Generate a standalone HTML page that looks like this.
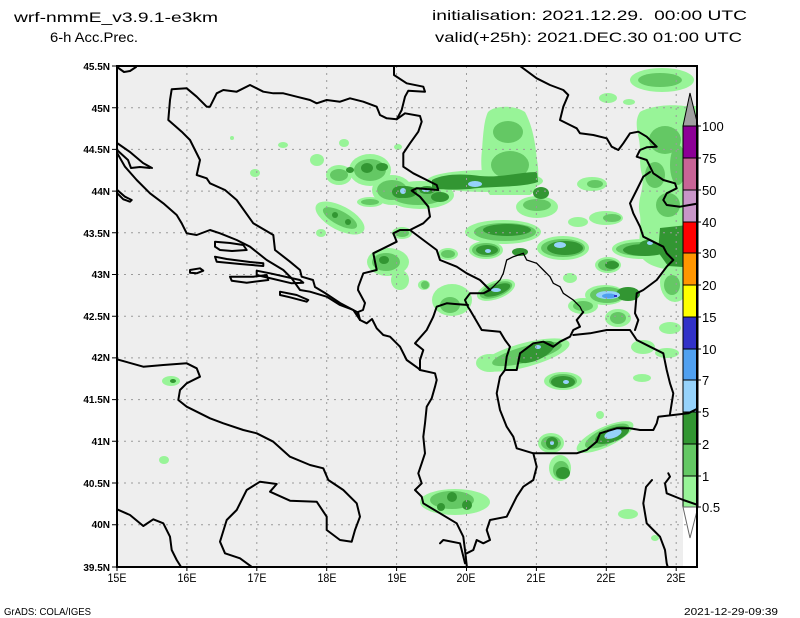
<!DOCTYPE html>
<html><head><meta charset="utf-8"><style>
html,body{margin:0;padding:0;background:#fff;width:800px;height:618px;overflow:hidden}
svg{display:block}
text{font-family:"Liberation Sans",sans-serif;fill:#000}
</style></head><body>
<svg width="800" height="618" viewBox="0 0 800 618" xmlns="http://www.w3.org/2000/svg">
<defs><clipPath id="mc"><rect x="117" y="66" width="580" height="501"/></clipPath></defs>
<rect width="800" height="618" fill="#fff"/>
<g clip-path="url(#mc)">
<rect x="117" y="66" width="580" height="501" fill="#eeeeee"/>
<rect x="683" y="507" width="15" height="62" fill="#fff"/>
<!-- light green -->
<g fill="#98f498">
<path d="M488,112 C495,105 515,105 525,112 C532,125 535,140 537,160 C540,175 538,190 530,195 L490,195 C482,185 480,165 482,150 C483,135 484,120 488,112 Z"/>
<ellipse cx="485" cy="181" rx="58" ry="11"/>
<ellipse cx="420" cy="195" rx="34" ry="14"/>
<ellipse cx="339" cy="175" rx="13" ry="10"/>
<ellipse cx="370" cy="170" rx="21" ry="16"/>
<ellipse cx="392" cy="190" rx="20" ry="15"/>
<ellipse cx="340" cy="218" rx="27" ry="12" transform="rotate(28 340 218)"/>
<ellipse cx="321" cy="233" rx="5" ry="4"/>
<ellipse cx="370" cy="202" rx="13" ry="5"/>
<ellipse cx="388" cy="262" rx="21" ry="14"/>
<ellipse cx="402" cy="233" rx="10" ry="6"/>
<ellipse cx="400" cy="280" rx="9" ry="10"/>
<ellipse cx="662" cy="80" rx="32" ry="12"/>
<ellipse cx="608" cy="98" rx="9" ry="5"/>
<ellipse cx="629" cy="102" rx="6" ry="3"/>
<path d="M640,112 C650,106 670,104 684,106 L697,106 L697,270 C670,272 650,268 642,258 C636,245 642,230 640,215 C636,200 645,190 642,175 C638,160 642,150 638,135 C636,125 636,118 640,112 Z"/>
<ellipse cx="537" cy="207" rx="21" ry="11"/>
<ellipse cx="592" cy="184" rx="15" ry="7"/>
<ellipse cx="578" cy="222" rx="10" ry="5"/>
<ellipse cx="606" cy="218" rx="17" ry="7"/>
<ellipse cx="503" cy="232" rx="38" ry="12"/>
<ellipse cx="486" cy="250" rx="17" ry="9"/>
<ellipse cx="448" cy="254" rx="10" ry="6"/>
<ellipse cx="563" cy="248" rx="26" ry="12"/>
<ellipse cx="642" cy="249" rx="30" ry="10"/>
<ellipse cx="608" cy="265" rx="13" ry="8"/>
<ellipse cx="605" cy="295" rx="20" ry="10"/>
<ellipse cx="496" cy="290" rx="20" ry="9" transform="rotate(-20 496 290)"/>
<ellipse cx="583" cy="306" rx="15" ry="8"/>
<ellipse cx="570" cy="278" rx="7" ry="5"/>
<ellipse cx="452" cy="300" rx="20" ry="16"/>
<ellipse cx="675" cy="282" rx="15" ry="20"/>
<ellipse cx="643" cy="347" rx="12" ry="7"/>
<ellipse cx="667" cy="353" rx="12" ry="5"/>
<ellipse cx="525" cy="355" rx="46" ry="12" transform="rotate(-15 525 355)"/>
<ellipse cx="490" cy="363" rx="14" ry="9"/>
<ellipse cx="563" cy="381" rx="19" ry="9"/>
<ellipse cx="605" cy="437" rx="31" ry="10" transform="rotate(-25 605 437)"/>
<ellipse cx="551" cy="443" rx="13" ry="10"/>
<ellipse cx="560" cy="468" rx="11" ry="13"/>
<ellipse cx="455" cy="502" rx="35" ry="13"/>
<ellipse cx="618" cy="318" rx="13" ry="9"/>
<ellipse cx="670" cy="328" rx="11" ry="6"/>
<ellipse cx="600" cy="415" rx="4" ry="4"/>
<ellipse cx="642" cy="378" rx="9" ry="4"/>
<ellipse cx="628" cy="514" rx="10" ry="5"/>
<ellipse cx="655" cy="538" rx="4" ry="3"/>
<ellipse cx="171" cy="381" rx="9" ry="5"/>
<ellipse cx="164" cy="460" rx="5" ry="4"/>
<ellipse cx="344" cy="143" rx="5" ry="4"/>
<ellipse cx="283" cy="145" rx="5" ry="3"/>
<ellipse cx="317" cy="160" rx="7" ry="6"/>
<ellipse cx="255" cy="173" rx="5" ry="4"/>
<ellipse cx="398" cy="147" rx="4" ry="3"/>
<ellipse cx="232" cy="138" rx="2" ry="2"/>
<ellipse cx="424" cy="285" rx="6" ry="5"/>
</g>
<!-- medium green -->
<g fill="#64c864">
<ellipse cx="508" cy="132" rx="15" ry="11"/>
<ellipse cx="510" cy="165" rx="19" ry="14"/>
<ellipse cx="418" cy="196" rx="26" ry="9"/>
<ellipse cx="339" cy="175" rx="9" ry="6"/>
<ellipse cx="370" cy="170" rx="16" ry="11"/>
<ellipse cx="392" cy="190" rx="15" ry="10"/>
<ellipse cx="340" cy="218" rx="19" ry="7" transform="rotate(28 340 218)"/>
<ellipse cx="370" cy="202" rx="9" ry="3"/>
<ellipse cx="386" cy="262" rx="14" ry="9"/>
<ellipse cx="402" cy="233" rx="7" ry="4"/>
<ellipse cx="660" cy="80" rx="22" ry="7"/>
<ellipse cx="665" cy="140" rx="16" ry="14"/>
<ellipse cx="655" cy="175" rx="10" ry="13"/>
<ellipse cx="668" cy="205" rx="12" ry="12"/>
<ellipse cx="678" cy="165" rx="8" ry="20"/>
<ellipse cx="537" cy="205" rx="14" ry="6"/>
<ellipse cx="595" cy="184" rx="8" ry="4"/>
<ellipse cx="612" cy="218" rx="9" ry="4"/>
<ellipse cx="505" cy="232" rx="31" ry="9"/>
<ellipse cx="486" cy="250" rx="14" ry="7"/>
<ellipse cx="448" cy="254" rx="7" ry="4"/>
<ellipse cx="563" cy="248" rx="22" ry="9"/>
<ellipse cx="642" cy="249" rx="26" ry="7"/>
<ellipse cx="608" cy="265" rx="10" ry="6"/>
<ellipse cx="607" cy="295" rx="17" ry="8"/>
<ellipse cx="496" cy="290" rx="17" ry="7" transform="rotate(-20 496 290)"/>
<ellipse cx="583" cy="306" rx="10" ry="5"/>
<ellipse cx="450" cy="305" rx="10" ry="8"/>
<ellipse cx="425" cy="285" rx="4" ry="4"/>
<ellipse cx="672" cy="285" rx="8" ry="10"/>
<ellipse cx="527" cy="354" rx="36" ry="8" transform="rotate(-15 527 354)"/>
<ellipse cx="563" cy="381" rx="14" ry="7"/>
<ellipse cx="607" cy="436" rx="24" ry="8" transform="rotate(-25 607 436)"/>
<ellipse cx="551" cy="443" rx="10" ry="7"/>
<ellipse cx="561" cy="470" rx="8" ry="9"/>
<ellipse cx="452" cy="500" rx="22" ry="9"/>
<ellipse cx="618" cy="318" rx="8" ry="6"/>
</g>
<!-- dark green -->
<g fill="#329632">
<path d="M432,180 C445,173 465,174 480,176 C500,178 520,172 537,172 L538,182 C520,188 490,186 470,189 C455,190 440,190 432,188 Z"/>
<ellipse cx="405" cy="192" rx="12" ry="6"/>
<ellipse cx="440" cy="197" rx="9" ry="5"/>
<ellipse cx="427" cy="190" rx="8" ry="4"/>
<ellipse cx="367" cy="168" rx="6" ry="5"/>
<ellipse cx="382" cy="167" rx="6" ry="4"/>
<ellipse cx="400" cy="192" rx="8" ry="6"/>
<ellipse cx="350" cy="170" rx="4" ry="3"/>
<ellipse cx="335" cy="215" rx="3" ry="3"/>
<ellipse cx="348" cy="222" rx="3" ry="3"/>
<ellipse cx="384" cy="260" rx="5" ry="4"/>
<ellipse cx="541" cy="193" rx="8" ry="6"/>
<ellipse cx="507" cy="230" rx="24" ry="6"/>
<ellipse cx="487" cy="250" rx="11" ry="5"/>
<ellipse cx="520" cy="252" rx="8" ry="4"/>
<ellipse cx="565" cy="248" rx="18" ry="7"/>
<ellipse cx="645" cy="250" rx="22" ry="6"/>
<ellipse cx="612" cy="265" rx="7" ry="4"/>
<ellipse cx="628" cy="294" rx="12" ry="7"/>
<ellipse cx="497" cy="290" rx="14" ry="5" transform="rotate(-20 497 290)"/>
<path d="M660,228 L697,224 L697,268 L668,266 L658,252 Z"/>
<ellipse cx="648" cy="246" rx="9" ry="6"/>
<ellipse cx="536" cy="352" rx="20" ry="8" transform="rotate(-25 536 352)"/>
<ellipse cx="563" cy="382" rx="12" ry="6"/>
<ellipse cx="612" cy="435" rx="18" ry="7" transform="rotate(-20 612 435)"/>
<ellipse cx="552" cy="443" rx="6" ry="6"/>
<ellipse cx="563" cy="473" rx="7" ry="6"/>
<ellipse cx="452" cy="497" rx="5" ry="5"/>
<ellipse cx="441" cy="507" rx="4" ry="4"/>
<ellipse cx="467" cy="505" rx="5" ry="5"/>
<ellipse cx="173" cy="381" rx="3" ry="2"/>
</g>
<!-- blues -->
<g fill="#96d2fa">
<ellipse cx="475" cy="184" rx="7" ry="3"/>
<ellipse cx="403" cy="191" rx="3" ry="3"/>
<ellipse cx="426" cy="190" rx="4" ry="2"/>
<ellipse cx="560" cy="245" rx="6" ry="3"/>
<ellipse cx="488" cy="251" rx="3" ry="2"/>
<ellipse cx="608" cy="295" rx="12" ry="4"/>
<ellipse cx="496" cy="290" rx="5" ry="2"/>
<ellipse cx="650" cy="243" rx="3" ry="2"/>
<ellipse cx="538" cy="347" rx="3" ry="2"/>
<ellipse cx="566" cy="382" rx="3" ry="2"/>
<ellipse cx="613" cy="434" rx="9" ry="4" transform="rotate(-20 613 434)"/>
<ellipse cx="552" cy="443" rx="2" ry="2"/>
</g>
<ellipse cx="609" cy="296" rx="7" ry="2.5" fill="#50a0f0"/>
<rect x="614" y="295" width="3" height="2" fill="#3232c8"/>
<!-- grid -->
<g stroke="#9a9a9a" stroke-width="1" stroke-dasharray="2,5" fill="none">
<path d="M117,107.7H697M117,149.4H697M117,191.1H697M117,232.8H697M117,274.5H697M117,316.2H697M117,357.9H697M117,399.6H697M117,441.3H697M117,483H697M117,524.7H697"/>
<path d="M186.9,66V567M256.8,66V567M326.7,66V567M396.6,66V567M466.5,66V567M536.4,66V567M606.3,66V567M676.2,66V567"/>
</g>
</g>
<!-- colorbar -->
<g stroke="#000" stroke-width="1">
<path d="M683,126 L690,93 L698,126 Z" fill="#a0a0a0"/>
<rect x="683" y="126" width="15" height="32" fill="#8c0096"/>
<rect x="683" y="158" width="15" height="32" fill="#c86496"/>
<rect x="683" y="190" width="15" height="32" fill="#c896c8"/>
<rect x="683" y="222" width="15" height="31" fill="#ff0000"/>
<rect x="683" y="253" width="15" height="32" fill="#ff9600"/>
<rect x="683" y="285" width="15" height="32" fill="#ffff00"/>
<rect x="683" y="317" width="15" height="32" fill="#3232c8"/>
<rect x="683" y="349" width="15" height="31" fill="#50a0f0"/>
<rect x="683" y="380" width="15" height="32" fill="#96d2fa"/>
<rect x="683" y="412" width="15" height="32" fill="#329632"/>
<rect x="683" y="444" width="15" height="32" fill="#64c864"/>
<rect x="683" y="476" width="15" height="31" fill="#98f498"/>
<path d="M683,507 L690,538 L698,507 Z" fill="#fff" stroke="#666"/>
</g>
<!-- borders -->
<g clip-path="url(#mc)" fill="none" stroke="#000" stroke-width="2" stroke-linejoin="round" stroke-linecap="round">
<path d="M117,67 L124,72 L130,71 L136,67"/>
<path d="M394,66 L394,75 L406.7,83.3 L423.3,86.7 L425,91.7 L408.3,90.7 L405,96.7 L401.7,110 L396.7,119.3 L386.7,118.3 L380,115 L376.7,106.7 L363.3,101.7 L350,98.3 L340,101.7 L326.7,100 L316.7,103.3 L310,100 L296.7,96.7 L283.3,93.3 L273.3,93.3 L263.3,91.7 L250,85 L236.7,91.7 L223.3,90 L216.7,93.3 L210,106.7 L206.7,106.7 L196.7,96.7 L186.7,88.3 L171.7,89.3 L170,100 L168.3,120 L181.7,131.7 L190,140 L200,160 L196.7,175 L206.7,178.3 L210,183.3 L225,190 L236.7,200 L253.3,223.3 L273.3,235 L275,250 L290,261.7 L300,270 L301.7,276.7 L313,280 L315,287 L325,293 L340,303 L357,312 L360,320"/>
<path d="M396.7,119.3 L405,113.3 L420,116 L421.7,121.7 L418.3,131.7 L410,143.3 L403.3,153.3 L403.3,166.7 L413.3,173.3 L426.7,180 L436.7,185 L438.3,190 L416.7,188.3 L411.7,190.7 L420,196.7 L428.3,206.7 L430,216.7 L423.3,223.3 L410,230 L400,230 L393.3,233.3 L396.7,241.7 L386.7,246.7 L373.3,253.3 L376.7,270 L363.3,273.3 L358.3,286.7 L358,290 L365,303 L363,310 L358,312 L360,320"/>
<path d="M410,230 L423.3,240 L436.7,250 L440,260 L456.7,266.7 L466.7,273.3 L480,280 L490,290 L483.3,293.3 L470,293.3 L465,300 L468,307 L470,310"/>
<path d="M468,305 L455,304 L446.7,303.3 L436.7,306.7 L433.3,316.7 L426.7,330 L415,343.3 L423.3,350 L420,360 L420,370"/>
<path d="M470,310 L481.7,330 L500,331.7 L505,340 L510,346.7 L506.7,356.7 L505,370 L500,376.7 L496.7,393.3 L500,410 L506.7,426.7 L513.3,436.7 L516.7,448.3 L533.3,453.3 L536.7,466.7 L533.3,480 L523.3,486.7 L516.7,496.7 L506.7,516.7 L490,520 L486.7,530 L490,540 L483.3,543.3 L476.7,540 L473.3,550 L466.7,553.3"/>
<path d="M440,543.3 L443.3,540 L460,543.3 L461.7,550 L465,563.3"/>
<path d="M505,370 L516.7,370 L520,353.3 L533.3,343.3 L543.3,341.7 L553.3,346.7 L560,341.7 L570,336.7 L573.3,330 L580,326.7 L576.7,320 L583.3,312"/>
<path d="M573.3,335 L590,333.3 L606.7,330 L630,330 L636.7,340 L650,346.7 L663.3,353.3 L666.7,370 L670,383.3 L673.3,393.3 L670,414"/>
<path d="M533.3,453.3 L556.7,453.3 L576.7,453.3 L586.7,450 L596.7,441.7 L600,433.3 L616.7,428.3 L630,428.3 L640,430 L653.3,430 L656.7,423.3 L658.3,416.7 L673.3,415 L688.3,413.3 L698,408.3"/>
<path d="M668.3,473.3 L670,476.7 L665,483.3 L666.7,493.3 L683.3,500 L698,505"/>
<path d="M652,480 L646,487 L643.3,503.3 L646.7,523.3 L653.3,530 L660,536.7 L665,550 L666.7,563.3 L668,568"/>
<path d="M520,66 L536.7,78.3 L550,85 L563.3,90 L568.3,95 L563.3,106.7 L560,120 L570,125 L576.7,128.3 L580,133.3 L593.3,135 L606.7,138.3 L611.7,146.7 L618.3,150 L623.3,143.3 L630,133.3 L638.3,131.7 L646.7,136.7 L653.3,143.3 L656.7,146.7 L646.7,147.3 L640,150 L636.7,156.7 L646.7,160 L653.3,173.3 L663.3,180 L675,183.3 L676.7,188.3 L666.7,193.3 L663.3,200 L666.7,205 L680,206.7 L698,203.5"/>
<path d="M650,172 L643.3,176.7 L636.7,190 L630,203.3 L633.3,213.3 L640,226.7 L643.3,236.7 L653.3,241.7 L663.3,246.7 L666.7,253.3 L673.3,260 L666.7,266.7 L656.7,280 L643.3,290 L636.7,293.3 L635,313.3 L638.3,320 L635,330"/>
<path d="M117,359.3 L143.3,366.7 L163.3,365 L186.7,363.3 L196.7,368.3 L200,376.7 L186.7,383.3 L180,390 L178.3,400 L186.7,406.7 L210,418.3 L223.3,423.3 L243.3,430 L256.7,433.3 L273.3,441.7 L290,456.7 L310,465 L323.3,468.3 L328.3,480 L343.3,490 L356.7,503.3 L360,516.7 L355,530 L351.7,541.7 L340,540 L326.7,530 L326.7,516.7 L316.7,501.7 L290,500.7 L270,491.7 L276.7,484 L260,481.7 L246.7,490 L236.7,510 L226.7,520 L220,541.7 L225,553.3 L240,558.3 L253.3,568"/>
<path d="M117,509.3 L130,515 L143.3,526 L153.3,519.3 L163.3,523.3 L170,536.7 L171.7,550 L176.7,560 L181.7,568"/>
<path d="M117.3,153.3 L125,166.7 L136.7,180 L150,193.3 L163.3,203.3 L176.7,215 L181.7,223.3 L186.7,233.3 L196.7,235 L210,230 L220,233.3 L236.7,240 L250,246.7 L266.7,260 L283.3,270 L291.7,278.3 L300,290 L310,291.7 L326.7,296.7 L340,305 L353.3,310 L360,320 L366.7,323.3 L372,319 L376.7,328.3 L383.3,335 L390,336.7 L400,346.7 L406.7,360 L418.3,368.3 L420,370 L435,373.3 L436.7,380 L435,386.7 L431.7,398.3 L426.7,406.7 L425,423.3 L423.3,436.7 L425,453.3 L421.7,463.3 L418.3,473.3 L421.7,483.3 L415,490 L421.7,496.7 L423.3,503.3 L440,513.3 L456.7,523.3 L463.3,536.7 L465,550 L467,568"/>
<path d="M215,241.7 L230,243 L243.3,245 L246.7,250 L232,251 L220,250 L215,246.7 Z"/>
<path d="M215,256.7 L226.7,259 L250,262 L263.3,263.3 L263.3,266 L240,264 L216.7,261.7 Z"/>
<path d="M190,270 L200,268.3 L203.3,270.7 L196.7,273.3 L190,272.7 Z"/>
<path d="M230,276.7 L253.3,276.7 L266.7,275 L268.3,280 L246.7,282.7 L231.7,280.7 Z"/>
<path d="M280,291.7 L296.7,295 L308.3,300 L306.7,301.7 L290,297.3 L280,295 Z"/>
<path d="M256.7,270.7 L270,273.3 L300,280 L303.3,282.7 L291.7,283.3 L256.7,275 Z"/>
<path d="M117,143 L130,152 L143,163 L152,168"/>
<path d="M117,150 L128,160 L131,168 L140,167 L150,168"/>
<path d="M117.3,190 L125,196.7 L131.7,200 L130,201.7 L123.3,199.3 L117.3,193.3"/>
</g>
<g clip-path="url(#mc)" fill="none" stroke="#000" stroke-width="1.3">
<path d="M490,290 L493.3,286.7 L500,280 L503.3,273.3 L506.7,260 L513.3,256.7 L523.3,253.3 L526.7,260 L536.7,263.3 L543.3,270 L550,276.7 L553.3,283.3 L560,286.7 L563.3,293.3 L573.3,300 L580,306.7 L583.3,313.3"/>
</g>
<rect x="117" y="66" width="580" height="501" fill="none" stroke="#000" stroke-width="2"/>
<!-- ticks -->
<g stroke="#000" stroke-width="1">
<path d="M112,66H117M112,107.7H117M112,149.4H117M112,191.1H117M112,232.8H117M112,274.5H117M112,316.2H117M112,357.9H117M112,399.6H117M112,441.3H117M112,483H117M112,524.7H117M112,567H117"/>
<path d="M117,567V571M186.9,567V571M256.8,567V571M326.7,567V571M396.6,567V571M466.5,567V571M536.4,567V571M606.3,567V571M676.2,567V571"/>
<path d="M698,126H701M698,158H701M698,190H701M698,222H701M698,253H701M698,285H701M698,317H701M698,349H701M698,380H701M698,412H701M698,444H701M698,476H701M698,507H701"/>
</g>
<g font-size="10" font-weight="bold" text-anchor="end">
<text x="110" y="70">45.5N</text><text x="110" y="112">45N</text><text x="110" y="153">44.5N</text><text x="110" y="195">44N</text><text x="110" y="237">43.5N</text><text x="110" y="278">43N</text><text x="110" y="320">42.5N</text><text x="110" y="361">42N</text><text x="110" y="403">41.5N</text><text x="110" y="445">41N</text><text x="110" y="487">40.5N</text><text x="110" y="528">40N</text><text x="110" y="571">39.5N</text>
</g>
<g font-size="12" text-anchor="middle">
<text x="117" y="582" textLength="19" lengthAdjust="spacingAndGlyphs">15E</text>
<text x="187" y="582" textLength="19" lengthAdjust="spacingAndGlyphs">16E</text>
<text x="257" y="582" textLength="19" lengthAdjust="spacingAndGlyphs">17E</text>
<text x="327" y="582" textLength="19" lengthAdjust="spacingAndGlyphs">18E</text>
<text x="397" y="582" textLength="19" lengthAdjust="spacingAndGlyphs">19E</text>
<text x="466" y="582" textLength="19" lengthAdjust="spacingAndGlyphs">20E</text>
<text x="536" y="582" textLength="19" lengthAdjust="spacingAndGlyphs">21E</text>
<text x="606" y="582" textLength="19" lengthAdjust="spacingAndGlyphs">22E</text>
<text x="676" y="582" textLength="19" lengthAdjust="spacingAndGlyphs">23E</text>
</g>
<g font-size="13">
<text x="702" y="131">100</text><text x="702" y="163">75</text><text x="702" y="195">50</text><text x="702" y="227">40</text><text x="702" y="258">30</text><text x="702" y="290">20</text><text x="702" y="322">15</text><text x="702" y="354">10</text><text x="702" y="385">7</text><text x="702" y="417">5</text><text x="702" y="449">2</text><text x="702" y="481">1</text><text x="702" y="512">0.5</text>
</g>
<g font-size="14">
<text x="14" y="22" textLength="204" lengthAdjust="spacingAndGlyphs">wrf-nmmE_v3.9.1-e3km</text>
<text x="50" y="42" textLength="88" lengthAdjust="spacingAndGlyphs">6-h Acc.Prec.</text>
<text x="432" y="20" textLength="315" lengthAdjust="spacingAndGlyphs" xml:space="preserve">initialisation: 2021.12.29.  00:00 UTC</text>
<text x="435" y="42" textLength="307" lengthAdjust="spacingAndGlyphs">valid(+25h): 2021.DEC.30 01:00 UTC</text>
</g>
<g font-size="10">
<text x="4" y="615" textLength="87" lengthAdjust="spacingAndGlyphs">GrADS: COLA/IGES</text>
<text x="684" y="615" textLength="94" lengthAdjust="spacingAndGlyphs">2021-12-29-09:39</text>
</g>
</svg>
</body></html>
